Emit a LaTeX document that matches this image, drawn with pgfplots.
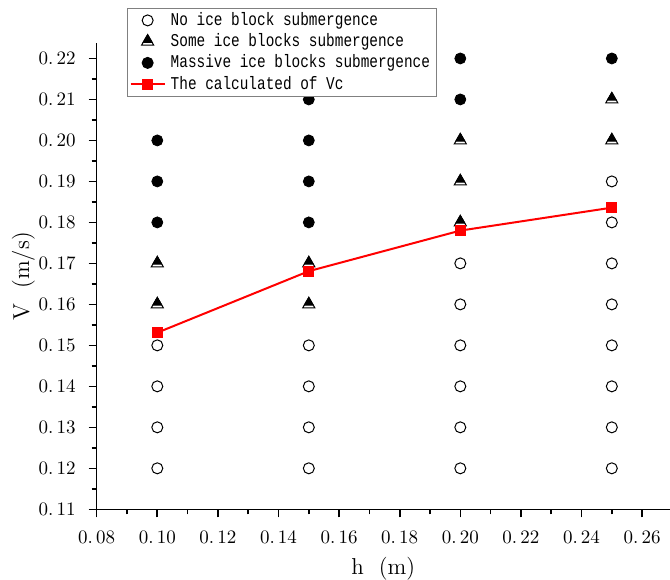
\documentclass[border=0pt]{standalone}
\usepackage{fontspec}
\usepackage{pgfplots}
\pgfplotsset{compat=1.18}
\newfontfamily\legfont[FakeStretch=0.8]{Liberation Mono}
\pgfdeclareplotmark{halftri}{%
 \pgfpathmoveto{\pgfqpoint{0pt}{\pgfplotmarksize}}%
 \pgfpathlineto{\pgfqpointpolar{210}{\pgfplotmarksize}}%
 \pgfpathlineto{\pgfqpointpolar{330}{\pgfplotmarksize}}%
 \pgfpathclose
 \pgfsetfillcolor{white}\pgfusepath{fill,stroke}%
 \pgfpathmoveto{\pgfqpoint{0pt}{\pgfplotmarksize}}%
 \pgfpathlineto{\pgfqpoint{-0.635\pgfplotmarksize}{-0.1\pgfplotmarksize}}%
 \pgfpathlineto{\pgfqpoint{0.635\pgfplotmarksize}{-0.1\pgfplotmarksize}}%
 \pgfpathclose
 \pgfsetfillcolor{black}\pgfusepath{fill,stroke}%
}
\begin{document}
\begin{tikzpicture}
\begin{axis}[
  name=ax,
  scale only axis,
  width=286.65pt, height=233pt,
  xmin=0.08, xmax=0.2692,
  ymin=0.11, ymax=0.2237,
  axis lines=left,
  axis line style={-, line width=0.8pt},
  tick style={black, line width=0.8pt},
  tick align=outside,
  major tick length=4pt,
  minor tick length=2.5pt,
  minor tick num=1,
  xtick={0.08,0.10,...,0.26},
  xticklabels={0.\,08,0.\,10,0.\,12,0.\,14,0.\,16,0.\,18,0.\,20,0.\,22,0.\,24,0.\,26},
  ytick={0.11,0.12,...,0.22},
  yticklabels={0.\,11,0.\,12,0.\,13,0.\,14,0.\,15,0.\,16,0.\,17,0.\,18,0.\,19,0.\,20,0.\,21,0.\,22},
  ticklabel style={font=\fontsize{9.5}{11}\selectfont},
  xticklabel style={yshift=-3pt},
  yticklabel style={xshift=-3pt},
  xlabel={h~~(m)},
  ylabel={V~~(m/s)},
  label style={font=\fontsize{11.5}{13}\selectfont},
  xlabel style={yshift=0pt},
  ylabel style={yshift=-5pt},
  clip=false,
  legend style={at={(0.053,1.076)}, anchor=north west, draw=gray, line width=0.5pt,
    font=\legfont\fontsize{9}{10}\selectfont, inner xsep=1pt, inner ysep=1pt,
    row sep=0.6pt, nodes={inner sep=1pt, inner xsep=2.5pt}},
  legend cell align=left,
]
\addplot[only marks, mark=o, mark size=2.75pt, mark options={black, line width=0.5pt}] coordinates {
 (0.10,0.12) (0.10,0.13) (0.10,0.14) (0.10,0.15)
 (0.15,0.12) (0.15,0.13) (0.15,0.14) (0.15,0.15)
 (0.20,0.12) (0.20,0.13) (0.20,0.14) (0.20,0.15) (0.20,0.16) (0.20,0.17)
 (0.25,0.12) (0.25,0.13) (0.25,0.14) (0.25,0.15) (0.25,0.16) (0.25,0.17) (0.25,0.18) (0.25,0.19)
};
\addlegendentry{No ice block submergence}
\addplot[only marks, mark=halftri, mark size=3.5pt, mark options={black, line width=0.5pt}] coordinates {
 (0.10,0.16) (0.10,0.17)
 (0.15,0.16) (0.15,0.17)
 (0.20,0.18) (0.20,0.19) (0.20,0.20)
 (0.25,0.20) (0.25,0.21)
};
\addlegendentry{Some ice blocks submergence}
\addplot[only marks, mark=*, mark size=2.75pt, mark options={black, fill=black}] coordinates {
 (0.10,0.18) (0.10,0.19) (0.10,0.20)
 (0.15,0.18) (0.15,0.19) (0.15,0.20) (0.15,0.21)
 (0.20,0.21) (0.20,0.22)
 (0.25,0.22)
};
\addlegendentry{Massive ice blocks submergence}
\addplot[red, line width=1pt, mark=square*, mark size=2.25pt, mark options={red, fill=red}] coordinates {
 (0.10,0.1531) (0.15,0.1681) (0.20,0.1780) (0.25,0.1836)
};
\addlegendentry{The calculated of Vc}
\end{axis}
\pgfresetboundingbox
\path ([shift={(-48.35pt,-34.85pt)}]ax.south west) rectangle ([shift={(0pt,21.65pt)}]ax.north east);
\end{tikzpicture}
\end{document}
